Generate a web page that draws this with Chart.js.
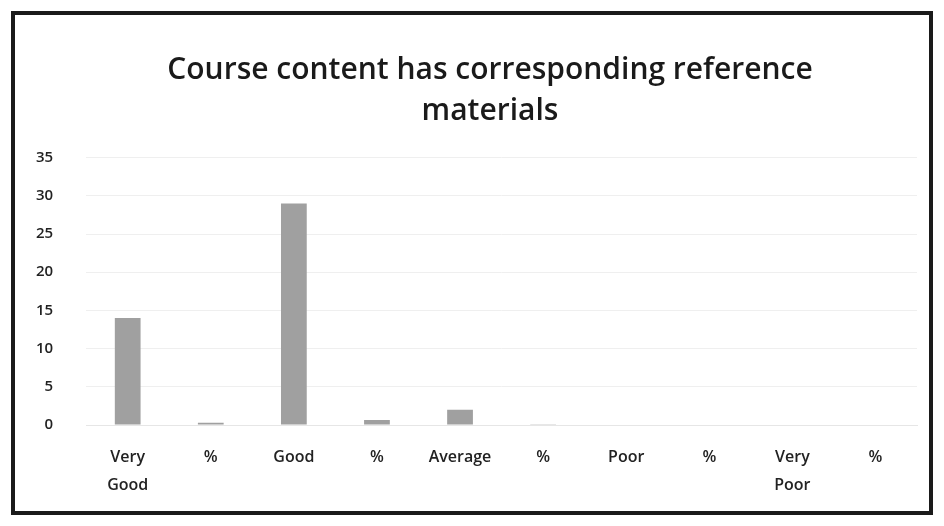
<!DOCTYPE html>
<html>
<head>
<meta charset="utf-8">
<script src="https://cdn.jsdelivr.net/npm/chart.js@4.4.1/dist/chart.umd.min.js"></script>
<style>
    html, body { margin: 0; padding: 0; background: #fff; }
    #wrap { position: absolute; left: 0; top: 0; width: 944px; height: 526px; }
    #frame { position: absolute; left: 11px; top: 11px; width: 914px; height: 496px; border: 4px solid #1a1a1a; }
</style>
</head>
<body>
<div id="wrap">
    <canvas id="chart" width="944" height="526"></canvas>
    <div id="frame"></div>
</div>
<script>
const categories = [['Very', 'Good'], '%', 'Good', '%', 'Average', '%', 'Poor', '%', ['Very', 'Poor'], '%'];
const responses = [14, 0.31, 29, 0.64, 2, 0.04, 0, 0, 0, 0];
const yTicks = [0, 5, 10, 15, 20, 25, 30, 35];

// title sits a little right of the canvas centre in the original
const shiftTitle = {
    id: 'shiftTitle',
    afterLayout: function(chart) {
        if (chart.titleBlock) {
            chart.titleBlock.left += 60;
        }
    }
};

document.addEventListener('DOMContentLoaded', function() {
    const ctx = document.getElementById('chart').getContext('2d');
    new Chart(ctx, {
        type: 'bar',
        data: {
            labels: categories,
            datasets: [{
                data: responses,
                backgroundColor: '#a0a0a0',
                borderWidth: 0,
                categoryPercentage: 1,
                barPercentage: 0.31
            }]
        },
        options: {
            responsive: false,
            animation: false,
            layout: { padding: { left: 3, right: 27, top: 50, bottom: 17 } },
            plugins: {
                legend: { display: false },
                tooltip: { enabled: false },
                title: {
                    display: true,
                    text: ['Course content has corresponding reference', 'materials'],
                    color: '#1a1a1a',
                    font: { family: 'Open Sans', size: 30, weight: '600', lineHeight: 1.36 },
                    padding: { top: 0, bottom: 26 }
                }
            },
            scales: {
                x: {
                    grid: { display: false },
                    border: { display: true, color: '#e6e6e6' },
                    ticks: {
                        color: '#222',
                        font: { family: 'Open Sans', size: 16, weight: '600', lineHeight: 1.75 },
                        maxRotation: 0,
                        autoSkip: false,
                        padding: 10
                    }
                },
                y: {
                    min: 0,
                    max: 35,
                    afterBuildTicks: function(axis) {
                        axis.ticks = yTicks.map(v => ({ value: v }));
                    },
                    grid: { color: '#efefef', drawTicks: false },
                    border: { display: false },
                    ticks: {
                        color: '#222',
                        font: { family: 'Open Sans', size: 15, weight: '600' },
                        padding: 33
                    }
                }
            }
        },
        plugins: [shiftTitle]
    });
});
</script>
</body>
</html>
